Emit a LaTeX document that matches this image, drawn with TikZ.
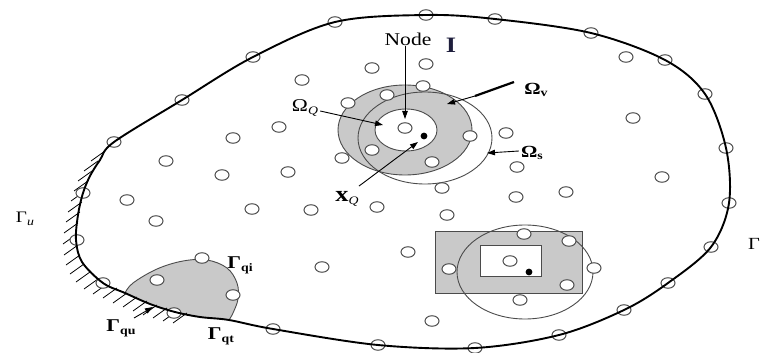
\documentclass[tikz,border=0pt]{standalone}
\usepackage{fontspec}
\setmainfont[FakeStretch=1.2]{Liberation Serif}
\usetikzlibrary{shapes.geometric,arrows.meta}
\definecolor{ringgray}{RGB}{75,75,75}
\definecolor{navyI}{RGB}{30,30,60}
\tikzset{
  pt/.style={ellipse, draw=ringgray, line width=1pt, fill=white, inner sep=0pt, minimum width=14pt, minimum height=10.5pt},
  shadefill/.style={fill=gray!42},
  outl/.style={draw=ringgray, line width=0.9pt},
  ptr/.style={-{Triangle[length=8pt,width=5.5pt]}, line width=0.9pt},
  lbl/.style={inner sep=0pt},
  hatchline/.style={line width=0.8pt}
}
\newcommand{\sbt}[1]{\raisebox{-0.35ex}{\fontsize{11.5}{13}\selectfont #1}}
\begin{document}
\begin{tikzpicture}[x=1pt,y=-1pt]
\useasboundingbox (0,0) rectangle (764,353);
% gray regions
\path[shadefill] plot[smooth, tension=0.6] coordinates {(125,293) (133,283) (157,269) (183,261) (207,260) (227,268) (237,283) (238,299) (233,313) (229,320)} -- (200,317) -- (175,312) -- (150,304) -- cycle;
\draw[outl] plot[smooth, tension=0.6] coordinates {(125,293) (133,283) (157,269) (183,261) (207,260) (227,268) (237,283) (238,299) (233,313) (229,320)};
\draw[outl, shadefill] (405,130) ellipse [x radius=67, y radius=45];
\draw[outl, fill=white] (406,130) ellipse [x radius=31, y radius=21];
\draw[outl] (425,138) ellipse [x radius=67, y radius=46];
\draw[outl, shadefill] (435,231) rectangle (582,293);
\draw[outl, fill=white] (480,245) rectangle (541,276);
\draw[outl] (525,272) ellipse [x radius=68, y radius=47];
% hatching of Gamma_u
\foreach \p in {(104,152),(97,162),(91,172),(87,182),(84,192),(81,203),(79,213),(77,224),(76,235),(77,246),(79,256),(83,265),(89,273),(97,280),(106,285),(116,289),(126,294),(136,298),(146,302),(156,306),(166,309),(176,312),(186,314)}
  {\draw[hatchline] \p ++(1,-1) -- ++(-14,10);}
% nodes (points)
\foreach [count=\i] \p in {(114,142),(182,100),(253,57),(335,22),(426,15),(495,19),(591,33),(665,60),(705,94),(726,148),(729,203),(711,247),(668,283),(624,310),(559,335),(475,348),(378,345),(273,329),(174,313),(103,283),(77,240),(83,193)}
  {\node[pt] (b\i) at \p {};}
\foreach [count=\i] \p in {(302,80),(372,68),(426,64),(423,86),(387,95),(348,103),(279,127),(233,138),(166,161),(222,175),(288,172),(342,158),(372,150),(405,128),(470,136),(506,133),(432,162),(517,167),(442,188),(516,197),(311,210),(377,207),(447,215),(566,192),(626,57),(633,118),(662,177),(127,200),(156,221),(252,209),(322,267),(408,252),(432,321),(202,258),(157,280),(233,295),(524,234),(569,241),(449,269),(594,268),(510,261),(567,285),(520,300)}
  {\node[pt] (n\i) at \p {};}
% boundary
\draw[line width=1.9pt, line join=round] plot[smooth cycle, tension=0.55] coordinates {(103,283) (82,262) (76,240) (78,215) (83,193) (90,176) (100,160) (114,142) (182,100) (253,57) (335,22) (426,15) (495,19) (591,33) (665,60) (705,94) (726,148) (729,203) (711,247) (668,283) (624,310) (559,335) (475,348) (378,345) (273,329) (229,320) (200,317) (175,312) (150,304) (125,293)};
% black dots
\fill (424,136) circle [radius=3.4];
\fill (529,272) circle [radius=3.4];
% labels
\node[lbl, font=\fontsize{18}{21}\selectfont] (node) at (408,39) {Node};
\node[lbl, font=\fontsize{22}{25}\selectfont\bfseries, text=navyI] (I) at (451,45) {I};
\node[lbl, font=\fontsize{18}{21}\selectfont] (OQ) at (305,108) {Ω\sbt{\textit{Q}}};
\node[lbl, font=\fontsize{17}{20}\selectfont\bfseries] (Ov) at (536,90) {Ω\sbt{v}};
\node[lbl, font=\fontsize{17}{20}\selectfont\bfseries] (Os) at (532,153) {Ω\sbt{s}};
\node[lbl, font=\fontsize{22}{25}\selectfont] (xQ) at (347,199) {\textbf{x}\sbt{\textit{Q}}};
\node[lbl, font=\fontsize{16}{19}\selectfont] (Gu) at (25,219) {Γ\sbt{\textit{u}}};
\node[lbl, font=\fontsize{18}{21}\selectfont\bfseries] (Gqi) at (240,265) {Γ\sbt{qi}};
\node[lbl, font=\fontsize{18}{21}\selectfont\bfseries] (Gqu) at (121,328) {Γ\sbt{qu}};
\node[lbl, font=\fontsize{18}{21}\selectfont\bfseries] (Gqt) at (221,336) {Γ\sbt{qt}};
\node[lbl, font=\fontsize{17}{20}\selectfont] (Gt) at (754,244) {Γ};
% arrow targets
\coordinate (tNode) at (405,119);
\coordinate (tOQ) at (383,125);
\coordinate (tOv) at (447,104);
\coordinate (mOv) at (475,96);
\coordinate (sOv) at (514,82);
\coordinate (tOs) at (487,153);
\coordinate (tx) at (418,142);
\coordinate (tqu) at (153,307);
\coordinate (squ) at (134,318);
% arrows
\draw[ptr] (node.south -| tNode) -- (tNode);
\draw[ptr] (OQ.east) ++(2,3) -- (tOQ);
\draw[line width=2.2pt] (sOv) -- (mOv);
\draw[ptr] (mOv) -- (tOv);
\draw[ptr] (Os.west) ++(-2,-2) -- (tOs);
\draw[ptr] (xQ.north) ++(12,-5) -- (tx);
\draw[ptr] (squ) -- (tqu);
\end{tikzpicture}
\end{document}
